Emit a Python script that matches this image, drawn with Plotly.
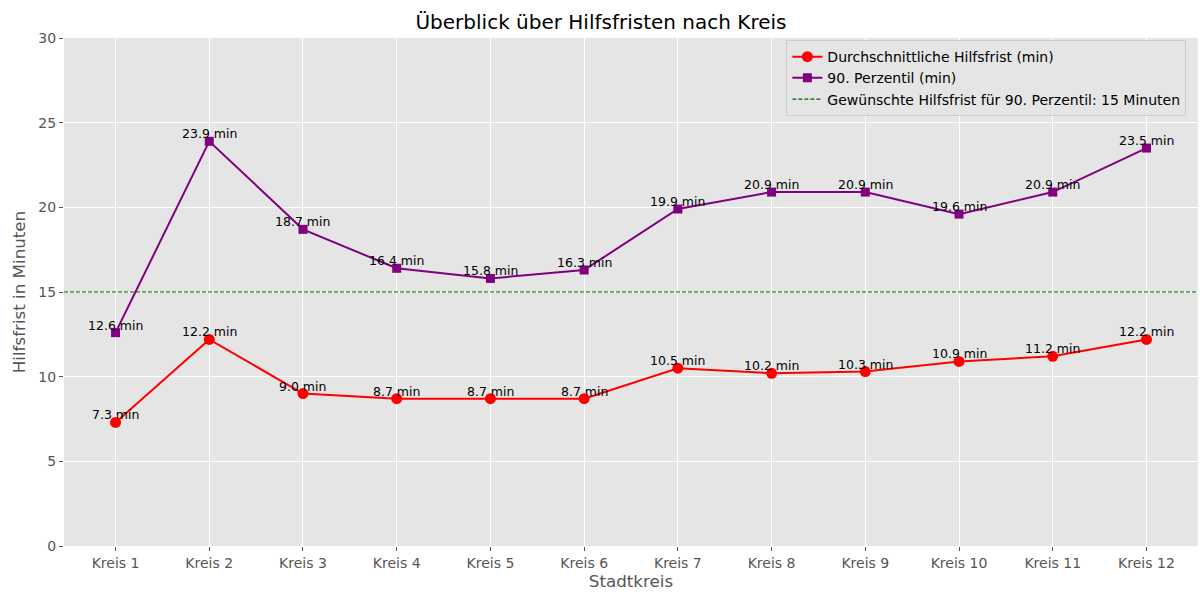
import plotly.graph_objects as go

kreise = [f"Kreis {i}" for i in range(1, 13)]
avg_min = [7.3, 12.2, 9.0, 8.7, 8.7, 8.7, 10.5, 10.2, 10.3, 10.9, 11.2, 12.2]
p90_min = [12.6, 23.9, 18.7, 16.4, 15.8, 16.3, 19.9, 20.9, 20.9, 19.6, 20.9, 23.5]
target = 15
y_ticks = [0, 5, 10, 15, 20, 25, 30]

FONT = "DejaVu Sans"
GREY = "#555555"

fig = go.Figure()
fig.add_trace(go.Scatter(
    x=kreise, y=avg_min, mode="lines+markers", name="Durchschnittliche Hilfsfrist (min)",
    line=dict(color="red", width=2), marker=dict(symbol="circle", size=11, color="red")))
fig.add_trace(go.Scatter(
    x=kreise, y=p90_min, mode="lines+markers", name="90. Perzentil (min)",
    line=dict(color="purple", width=2), marker=dict(symbol="square", size=9, color="purple")))
fig.add_trace(go.Scatter(
    x=[-0.55, 11.55], y=[target, target], mode="lines",
    name="Gewünschte Hilfsfrist für 90. Perzentil: 15 Minuten",
    line=dict(color="#006400", width=1.2, dash="4px,2px"), xaxis="x2"))

for series in (avg_min, p90_min):
    for k, v in zip(kreise, series):
        fig.add_annotation(x=k, y=v, text=f"{v:.1f} min", showarrow=False,
                           yanchor="bottom", xanchor="center", yshift=-2,
                           font=dict(family=FONT, size=12.5, color="black"))

fig.update_layout(
    width=1202, height=592,
    margin=dict(l=64, r=4, t=38, b=46, autoexpand=False),
    paper_bgcolor="white", plot_bgcolor="#E5E5E5",
    font=dict(family=FONT, color=GREY, size=14),
    title=dict(text="Überblick über Hilfsfristen nach Kreis", x=0.5, xanchor="center",
               y=0.963, yanchor="middle", font=dict(family=FONT, size=20, color="black")),
    xaxis=dict(type="category", range=[-0.55, 11.55], showgrid=True, gridcolor="white",
               gridwidth=1, ticks="outside", ticklen=4, tickcolor=GREY, zeroline=False,
               showline=False, tickfont=dict(size=14, color=GREY), automargin=False,
               title=dict(text="Stadtkreis", font=dict(size=16.7, color=GREY), standoff=4)),
    xaxis2=dict(overlaying="x", range=[-0.55, 11.55], visible=False),
    yaxis=dict(range=[0, 30], tickvals=y_ticks, showgrid=True, gridcolor="white", gridwidth=1,
               ticks="outside", ticklen=4, tickcolor=GREY, zeroline=False, showline=False,
               tickfont=dict(size=14, color=GREY), automargin=False,
               title=dict(text="Hilfsfrist in Minuten", font=dict(size=16.7, color=GREY), standoff=8)),
    legend=dict(x=0.637, y=0.996, xanchor="left", yanchor="top", bgcolor="#E5E5E5",
                bordercolor="#CCCCCC", borderwidth=1, font=dict(size=14, color="black"),
                itemwidth=30, tracegroupgap=0),
    showlegend=True,
)

fig.write_html("out.html", config={"displayModeBar": False},
               post_script="document.body.style.margin='0';document.body.style.overflow='hidden';")
